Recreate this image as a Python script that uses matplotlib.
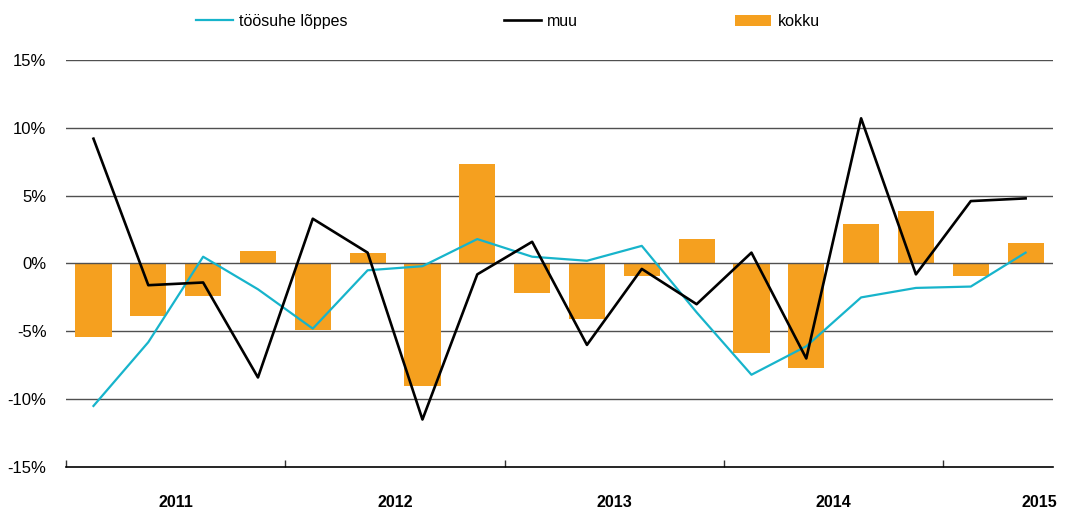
import matplotlib.pyplot as plt
import numpy as np

plt.rcParams['font.family'] = ['Liberation Sans', 'DejaVu Sans']

# quarterly values 2011 Q1 .. 2015 Q2, in %
years = ['2011', '2012', '2013', '2014', '2015']
kokku = [-5.4, -3.9, -2.4, 0.9, -4.9, 0.8, -9.0, 7.3, -2.2,
         -4.1, -0.9, 1.8, -6.6, -7.7, 2.9, 3.9, -0.9, 1.5]
muu = [9.2, -1.6, -1.4, -8.4, 3.3, 0.8, -11.5, -0.8, 1.6,
       -6.0, -0.4, -3.0, 0.8, -7.0, 10.7, -0.8, 4.6, 4.8]
toosuhe = [-10.5, -5.8, 0.5, -1.9, -4.8, -0.5, -0.2, 1.8, 0.5,
           0.2, 1.3, -3.6, -8.2, -6.1, -2.5, -1.8, -1.7, 0.8]

orange = '#F5A01F'
cyan = '#17B4CB'

fig = plt.figure(figsize=(10.67, 5.11), dpi=100)
ax = fig.add_axes([0.0619, 0.0861, 0.925, 0.7965])

x = np.arange(len(kokku))
ax.bar(x, kokku, width=0.66, color=orange, zorder=2, label='kokku')
l1, = ax.plot(x, toosuhe, color=cyan, lw=1.6, zorder=4, label='töösuhe lõppes')
l2, = ax.plot(x, muu, color='black', lw=1.9, zorder=5, label='muu')

ax.set_xlim(-0.5, 17.5)
ax.set_ylim(-15, 15)
for v in [15, 10, 5, 0, -5, -10]:
    ax.axhline(v, color='#505050', lw=1.0, zorder=1 if v != 0 else 3)

ax.set_yticks([15, 10, 5, 0, -5, -10, -15])
ax.set_yticklabels(['15%', '10%', '5%', '0%', '-5%', '-10%', '-15%'], fontsize=12)
ax.tick_params(axis='y', length=0, pad=14)

ax.set_xticks([-0.5, 3.5, 7.5, 11.5, 15.5])
ax.set_xticklabels([])
ax.tick_params(axis='x', which='major', direction='in', length=5, width=1, color='#333333')
# last year label sits inside the figure edge, as in the original
ax.set_xticks([1.5, 5.5, 9.5, 13.5, 17.25], minor=True)
ax.set_xticklabels(years, minor=True, fontsize=11.5, fontweight='bold')
ax.tick_params(axis='x', which='minor', length=0, pad=20)

for s in ['left', 'right', 'top']:
    ax.spines[s].set_visible(False)
ax.spines['bottom'].set_color('black')
ax.spines['bottom'].set_linewidth(1.2)

bars = ax.containers[0]
fig.legend([l1, l2, bars], ['töösuhe lõppes', 'muu', 'kokku'],
           loc='center left', bbox_to_anchor=(0.170, 0.958), ncol=3, frameon=False,
           fontsize=11.5, handlelength=2.3, handletextpad=0.4, columnspacing=9.8)

fig.savefig('out.png', dpi=100)
